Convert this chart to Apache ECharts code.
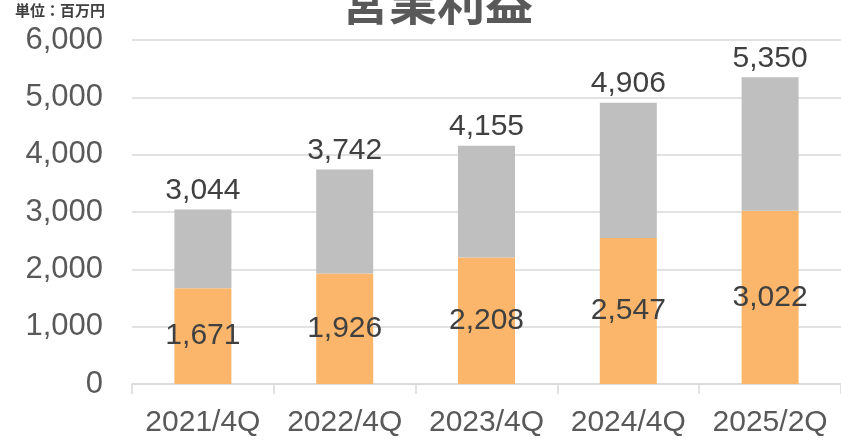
<!DOCTYPE html>
<html>
<head>
<meta charset="utf-8">
<script src="https://cdn.jsdelivr.net/npm/echarts@6/dist/echarts.min.js"></script>
<style>
  html, body { margin: 0; padding: 0; background: #fff; }
  #chart { width: 841px; height: 441px; }
</style>
</head>
<body>
<div id="chart"></div>
<script>
// Operating profit (millions of yen) by period
const periods = ['2021/4Q', '2022/4Q', '2023/4Q', '2024/4Q', '2025/2Q'];
const lowerValues = [1671, 1926, 2208, 2547, 3022];
const totalValues = [3044, 3742, 4155, 4906, 5350];
const upperValues = totalValues.map((t, i) => t - lowerValues[i]);

const fmt = v => v.toLocaleString('en-US');
const numFont = '"Liberation Sans", Arial, sans-serif';
const cjkFont = '"Noto Sans CJK JP", sans-serif';

const chart = echarts.init(document.getElementById('chart'), null, { renderer: 'canvas' });
chart.setOption({
  animation: false,
  backgroundColor: '#ffffff',
  graphic: [
    {
      // chart title, partly above the top edge
      type: 'text',
      x: 437,
      y: -22,
      style: {
        text: '営業利益',
        font: 'bold 48px ' + cjkFont,
        fill: '#595959',
        textAlign: 'center'
      }
    },
    {
      type: 'text',
      left: 15,
      top: 3,
      style: { text: '単位：百万円', font: 'bold 15px ' + cjkFont, fill: '#404040' }
    }
  ],
  grid: { left: 132, top: 40, width: 716.5, height: 344 },
  xAxis: {
    type: 'category',
    data: periods,
    axisLine: { lineStyle: { color: '#D9D9D9', width: 1.5 } },
    axisTick: { show: true, length: 10, lineStyle: { color: '#D9D9D9', width: 1.5 } },
    axisLabel: { interval: 0, color: '#595959', fontFamily: numFont, fontSize: 30, margin: 24 }
  },
  yAxis: {
    type: 'value',
    min: 0,
    max: 6000,
    interval: 1000,
    axisLine: { show: false },
    axisTick: { show: false },
    splitLine: { lineStyle: { color: '#D9D9D9', width: 1.5 } },
    axisLabel: { color: '#595959', fontFamily: numFont, fontSize: 31, margin: 29, formatter: v => fmt(v) }
  },
  series: [
    {
      type: 'bar',
      stack: 'profit',
      data: lowerValues,
      barWidth: 57,
      itemStyle: { color: '#FBB66B' },
      label: {
        show: true,
        position: 'inside',
        formatter: p => fmt(p.value),
        color: '#404040',
        fontFamily: numFont,
        fontSize: 30
      }
    },
    {
      type: 'bar',
      stack: 'profit',
      data: upperValues,
      barWidth: 57,
      itemStyle: { color: '#BFBFBF' },
      label: {
        show: true,
        position: 'top',
        distance: 4,
        formatter: p => fmt(totalValues[p.dataIndex]),
        color: '#404040',
        fontFamily: numFont,
        fontSize: 30
      }
    }
  ]
});
</script>
</body>
</html>
